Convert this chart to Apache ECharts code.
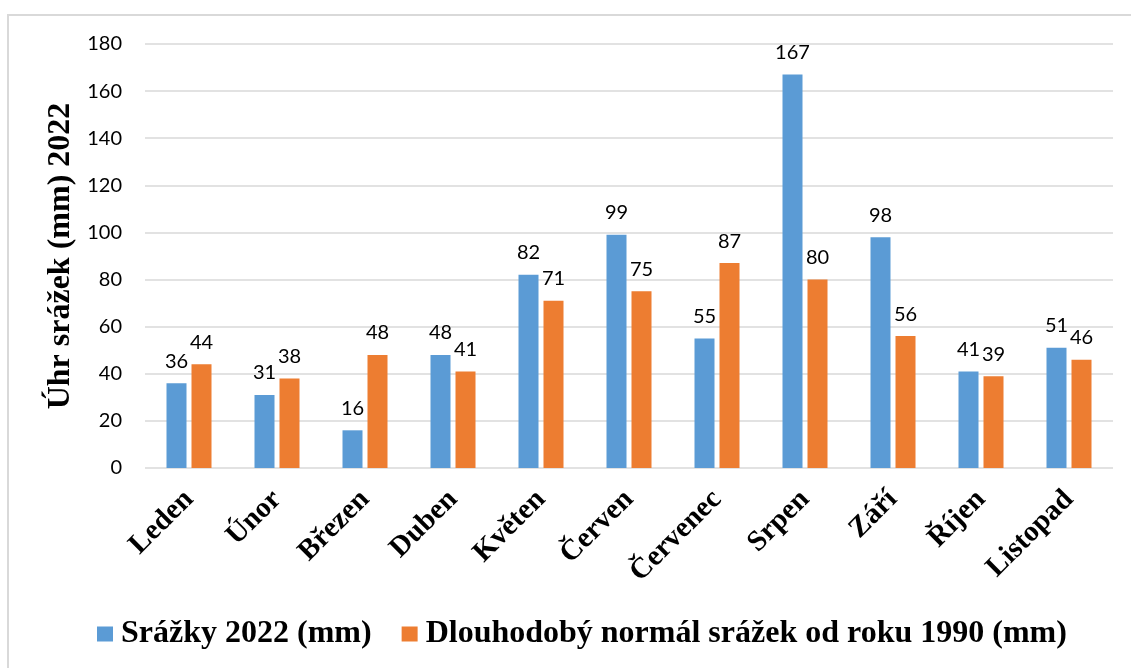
<!DOCTYPE html>
<html>
<head>
<meta charset="utf-8">
<script src="https://cdn.jsdelivr.net/npm/echarts@6/dist/echarts.min.js"></script>
<style>
html,body{margin:0;padding:0;background:#fff;}
#chart{width:1131px;height:668px;}
</style>
</head>
<body>
<div id="chart"></div>
<script>
const categories = ['Leden','Únor','Březen','Duben','Květen','Červen','Červenec','Srpen','Září','Říjen','Listopad'];
const srazky2022 = [36,31,16,48,82,99,55,167,98,41,51];
const normal1990 = [44,38,48,41,71,75,87,80,56,39,46];
const seriesNames = ['Srážky 2022 (mm)','Dlouhodobý normál srážek od roku 1990 (mm)'];
const yAxisName = 'Úhr srážek (mm) 2022';

const chart = echarts.init(document.getElementById('chart'), null, {renderer:'canvas'});
const serif = '"Liberation Serif","Times New Roman",serif';
const sans = 'Lato, "Open Sans", sans-serif';
const labelCfg = {show:true, position:'top', distance:12, color:'#000', fontFamily:sans, fontSize:20};
chart.setOption({
  animation:false,
  graphic:[{type:'rect', shape:{x:8,y:15,width:1200,height:700}, style:{fill:'none', stroke:'#D9D9D9', lineWidth:2}, silent:true, z:-1}],
  grid:{left:145, right:18, top:44, bottom:200},
  legend:{left:97, top:618, padding:0, itemWidth:16, itemHeight:15, itemGap:30, icon:'rect',
    textStyle:{fontFamily:serif, fontWeight:'bold', fontSize:32, color:'#000', padding:[0,0,0,3]}},
  xAxis:{type:'category', data:categories,
    axisLine:{show:false}, axisTick:{show:false},
    axisLabel:{rotate:45, margin:27, interval:0, fontFamily:serif, fontWeight:'bold', fontSize:29, color:'#000'}},
  yAxis:{type:'value', min:0, max:180, interval:20,
    name:yAxisName, nameLocation:'middle', nameGap:68,
    nameTextStyle:{fontFamily:serif, fontWeight:'bold', fontSize:32, color:'#000'},
    axisLabel:{margin:23, fontFamily:sans, fontSize:20, color:'#000'},
    splitLine:{lineStyle:{color:'#D9D9D9', width:1.5}}},
  series:[
    {name:seriesNames[0], type:'bar', data:srazky2022, barWidth:20, barGap:'25%',
     itemStyle:{color:'#5B9BD5'}, label:labelCfg},
    {name:seriesNames[1], type:'bar', data:normal1990, barWidth:20, barGap:'25%',
     itemStyle:{color:'#ED7D31'}, label:labelCfg}
  ]
});
</script>
</body>
</html>
